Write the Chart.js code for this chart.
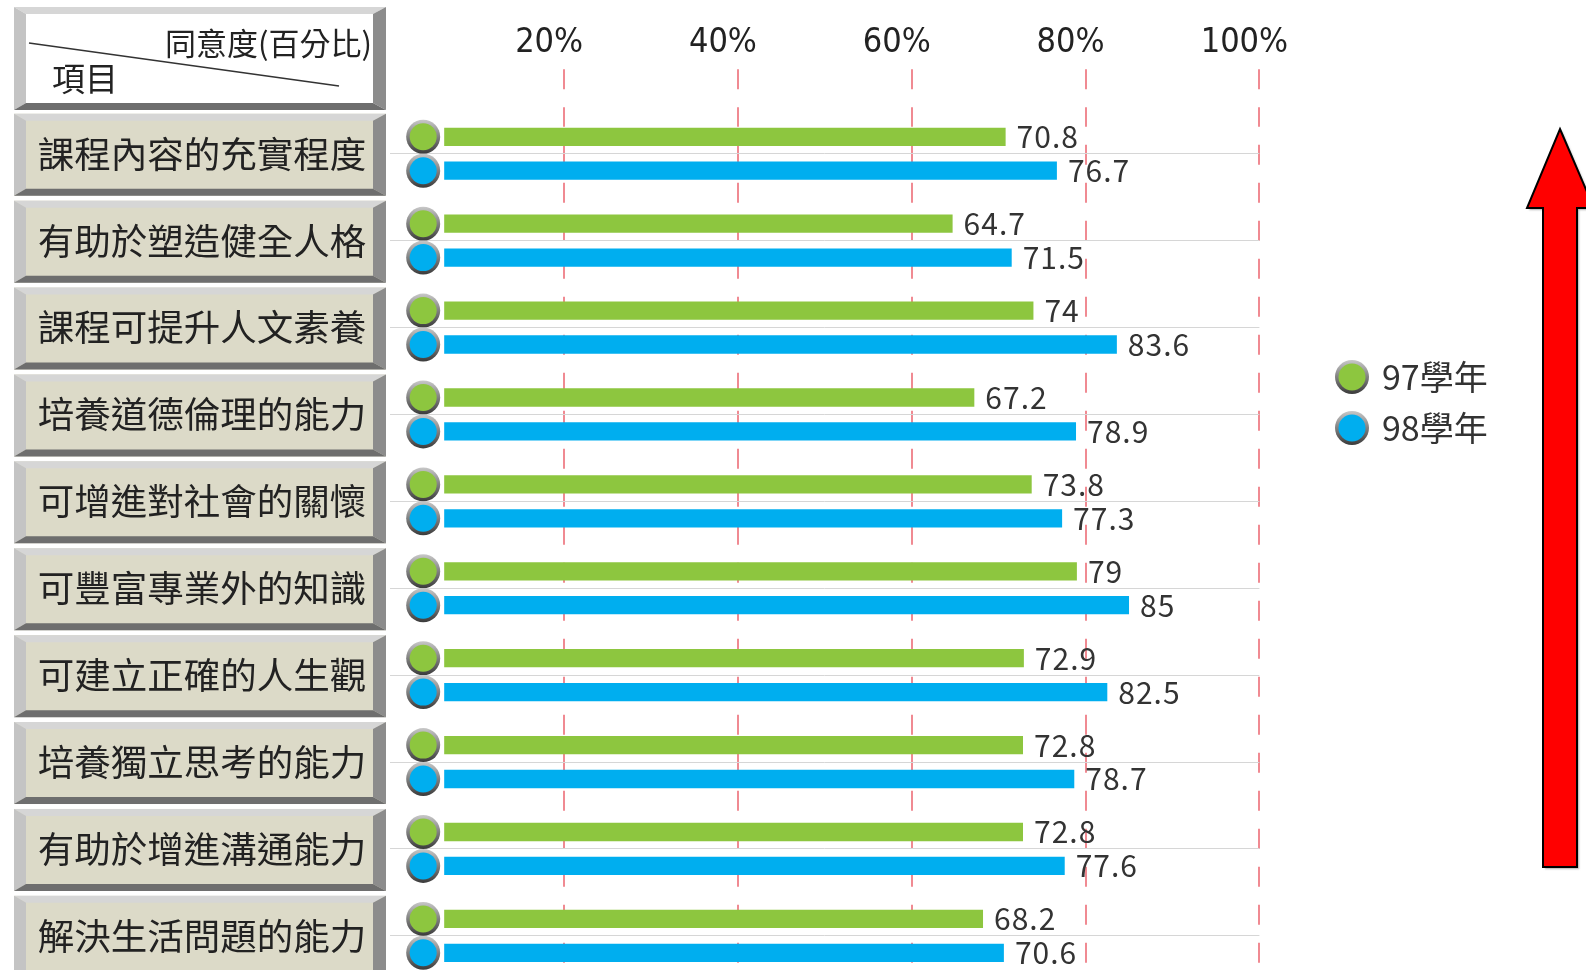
<!DOCTYPE html>
<html>
<head>
<meta charset="utf-8">
<script src="https://cdn.jsdelivr.net/npm/chart.js@4.4.1/dist/chart.umd.min.js"></script>
<style>
  html, body { margin: 0; padding: 0; background: #fff; overflow: hidden; }
</style>
</head>
<body>
<canvas id="graficoBarras" width="1586" height="980"></canvas>
<script>
const items = ["課程內容的充實程度", "有助於塑造健全人格", "課程可提升人文素養", "培養道德倫理的能力", "可增進對社會的關懷",
  "可豐富專業外的知識", "可建立正確的人生觀", "培養獨立思考的能力", "有助於增進溝通能力", "解決生活問題的能力"]
const year97 = [70.8, 64.7, 74, 67.2, 73.8, 79, 72.9, 72.8, 72.8, 68.2]
const year98 = [76.7, 71.5, 83.6, 78.9, 77.3, 85, 82.5, 78.7, 77.6, 70.6]
const seriesNames = ["97學年", "98學年"]
const tickValues = [20, 40, 60, 80, 100]
const tickLabels = ["20%", "40%", "60%", "80%", "100%"]

const colores = ["#8dc63f", "#00aeef"]
const cjk = "'Noto Sans CJK TC', 'Noto Sans CJK SC', sans-serif"
const narrow = "'Liberation Sans Narrow', 'DejaVu Sans Condensed', 'Liberation Sans', sans-serif"
const rojo = "#f08a92"

function cajaBisel(ctx, x0, y0, x1, y1, fill) {
  const l = 12, r = 13, t = 7, b = 7
  ctx.fillStyle = fill
  ctx.fillRect(x0, y0, x1 - x0, y1 - y0)
  const poly = (pts, c) => {
    ctx.beginPath()
    ctx.moveTo(pts[0][0], pts[0][1])
    pts.slice(1).forEach(p => ctx.lineTo(p[0], p[1]))
    ctx.closePath()
    ctx.fillStyle = c
    ctx.fill()
  }
  poly([[x0, y0], [x1, y0], [x1 - r, y0 + t], [x0 + l, y0 + t]], "#d6d6d6")
  poly([[x0, y0], [x0 + l, y0 + t], [x0 + l, y1 - b], [x0, y1]], "#c4c4c4")
  poly([[x1, y0], [x1, y1], [x1 - r, y1 - b], [x1 - r, y0 + t]], "#8c8c8c")
  poly([[x0, y1], [x0 + l, y1 - b], [x1 - r, y1 - b], [x1, y1]], "#6e6e6e")
}

function bolita(ctx, x, y, color) {
  const g = ctx.createLinearGradient(0, y - 17, 0, y + 17)
  g.addColorStop(0, "#c8c8c8")
  g.addColorStop(1, "#3a3a3a")
  ctx.beginPath()
  ctx.arc(x, y, 17, 0, Math.PI * 2)
  ctx.fillStyle = g
  ctx.fill()
  ctx.beginPath()
  ctx.arc(x, y, 13.5, 0, Math.PI * 2)
  ctx.fillStyle = color
  ctx.fill()
}

const decoracion = {
  id: "decoracion",
  beforeDraw(chart) {
    const ctx = chart.ctx
    const y = chart.scales.y
    ctx.save()
    // cabecera
    cajaBisel(ctx, 14, 7, 386, 110, "#ffffff")
    ctx.strokeStyle = "#333"
    ctx.lineWidth = 1.5
    ctx.beginPath()
    ctx.moveTo(29, 43)
    ctx.lineTo(339, 86)
    ctx.stroke()
    ctx.fillStyle = "#222"
    ctx.font = "31px " + cjk
    ctx.textAlign = "right"
    ctx.textBaseline = "middle"
    ctx.fillText("同意度(百分比)", 372, 43)
    ctx.font = "33px " + cjk
    ctx.textAlign = "left"
    ctx.fillText("項目", 52, 78)
    // cajas de items
    items.forEach((it, i) => {
      const c = y.getPixelForValue(i)
      cajaBisel(ctx, 14, c - 40, 386, c + 42, "#dcdac8")
    })
    ctx.restore()
  },
  afterDatasetsDraw(chart) {
    const ctx = chart.ctx
    ctx.save()
    chart.data.datasets.forEach((ds, d) => {
      chart.getDatasetMeta(d).data.forEach((bar, i) => {
        bolita(ctx, bar.base - 21, bar.y, colores[d])
        ctx.fillStyle = "#333"
        ctx.font = "30px " + cjk
        ctx.letterSpacing = "1px"
        ctx.textAlign = "left"
        ctx.textBaseline = "middle"
        ctx.fillText(String(ds.data[i]), bar.x + 11, bar.y)
      })
    })
    ctx.letterSpacing = "0px"
    // leyenda
    seriesNames.forEach((n, d) => {
      const ly = 377 + d * 51
      bolita(ctx, 1352, ly, colores[d])
      ctx.fillStyle = "#333"
      ctx.font = "34px " + cjk
      ctx.textAlign = "left"
      ctx.textBaseline = "middle"
      ctx.fillText(n, 1382, ly)
    })
    // flecha roja
    ctx.beginPath()
    ctx.moveTo(1560, 129)
    ctx.lineTo(1594, 208)
    ctx.lineTo(1577, 208)
    ctx.lineTo(1577, 867)
    ctx.lineTo(1543, 867)
    ctx.lineTo(1543, 208)
    ctx.lineTo(1527, 208)
    ctx.closePath()
    ctx.shadowColor = "rgba(0,0,0,0.3)"
    ctx.shadowOffsetX = 2
    ctx.shadowOffsetY = 2
    ctx.shadowBlur = 2
    ctx.fillStyle = "#ff0000"
    ctx.fill()
    ctx.shadowColor = "transparent"
    ctx.lineWidth = 2
    ctx.strokeStyle = "#000"
    ctx.stroke()
    ctx.restore()
  }
}

const barras = document.getElementById("graficoBarras")

new Chart(barras, {
  type: "bar",
  data: {
    labels: items,
    datasets: [
      { label: seriesNames[0], data: year97, backgroundColor: colores[0], base: 6.2, borderWidth: 0 },
      { label: seriesNames[1], data: year98, backgroundColor: colores[1], base: 6.2, borderWidth: 0 },
    ],
  },
  options: {
    indexAxis: "y",
    responsive: false,
    animation: false,
    categoryPercentage: 0.78,
    barPercentage: 0.54,
    layout: { padding: { left: 0, top: 0, right: 326.6, bottom: 0.7 } },
    plugins: { legend: { display: false }, tooltip: { enabled: false } },
    scales: {
      x: {
        position: "top",
        min: 0,
        max: 100,
        afterFit: (s) => { s.height = 110.3; s.paddingLeft = 0; s.paddingRight = 0 },
        afterBuildTicks: (s) => { s.ticks = tickValues.map(v => ({ value: v })) },
        ticks: {
          callback: (v) => tickLabels[tickValues.indexOf(v)],
          font: { family: narrow, size: 34 },
          color: "#222",
          padding: 6,
          labelOffset: -15,
          maxRotation: 0,
          autoSkip: false,
        },
        grid: {
          color: rojo,
          lineWidth: 2,
          drawTicks: true,
          tickLength: 41,
          tickColor: rojo,
          tickWidth: 2,
          tickBorderDash: [20, 18],
        },
        border: { display: false, dash: [20, 18], dashOffset: 3.3 },
      },
      y: {
        afterFit: (s) => { s.width = 390.3; s.paddingTop = 0; s.paddingBottom = 0 },
        ticks: { font: { family: cjk, size: 36.5 }, color: "#222", padding: 24, crossAlign: "near" },
        grid: { offset: false, color: "#d6d6d6", lineWidth: 1, drawTicks: false },
        border: { display: false },
      },
    },
  },
  plugins: [decoracion],
})
</script>
</body>
</html>
